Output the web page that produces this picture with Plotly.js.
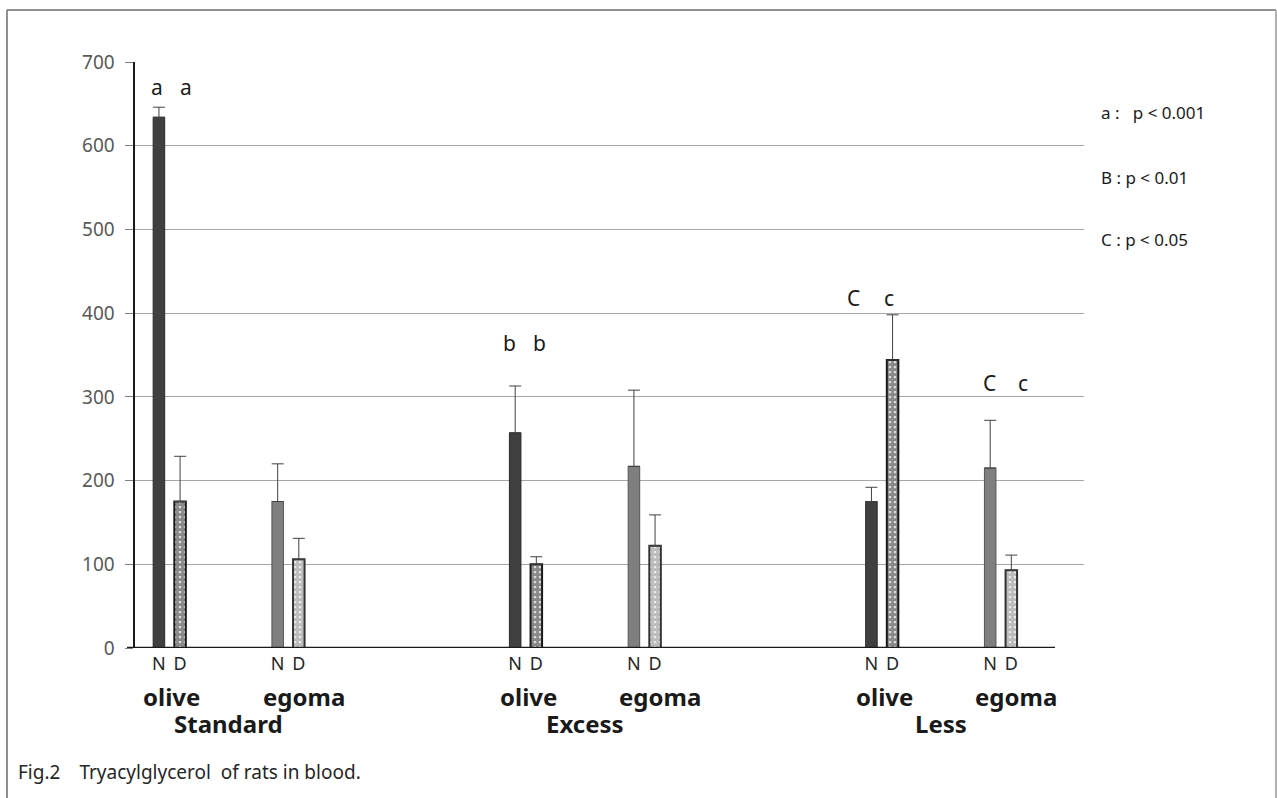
<!DOCTYPE html>
<html><head><meta charset="utf-8">
<script src="https://cdn.plot.ly/plotly-3.0.1.min.js"></script>
<style>html,body{margin:0;padding:0;background:#fff;}#chart{width:1277px;height:798px;}</style>
</head><body><div id="chart"></div>
<script>
// ---- data ----
const dietGroups = ["Standard", "Excess", "Less"];
const oils = ["olive", "egoma", "olive", "egoma", "olive", "egoma"];
const slots = [0, 1, 3, 4, 6, 7];             // category slots (gaps between diet groups)
const valuesN = [634, 175, 257, 217, 175, 215];
const errN    = [12, 45, 56, 91, 17, 57];
const valuesD = [175, 106, 100, 122, 344, 93];
const errD    = [54, 25, 9, 37, 54, 18];
const yTicks = [0, 100, 200, 300, 400, 500, 600, 700];
const sigNotes = ["a :   p < 0.001", "B : p < 0.01", "C : p < 0.05"];
const caption = "Fig.2\u3000Tryacylglycerol  of rats in blood.";

// ---- styling ----
const off = 0.089, bw = 0.097;
const nColors = oils.map(o => o === "olive" ? "#404040" : "#7f7f7f");
const nLine = oils.map(o => o === "olive" ? "#2a2a2a" : "#555555");
const dFg = oils.map(o => o === "olive" ? "#141414" : "#7a7a7a");
const dLine = oils.map(o => o === "olive" ? "#1a1a1a" : "#333333");

const traceN = {
  type: "bar", x: slots, y: valuesN, width: bw, offset: -off - bw/2,
  marker: {color: nColors, line: {color: nLine, width: 1}},
  error_y: {type: "data", array: errN, arrayminus: errN.map(() => 0), symmetric: false,
            color: "#404040", thickness: 1, width: 6},
  hoverinfo: "y", showlegend: false
};
const traceD = {
  type: "bar", x: slots, y: valuesD, width: bw, offset: off - bw/2,
  marker: {color: "#ffffff", line: {color: dLine, width: 2},
           pattern: {shape: ".", fgcolor: dFg, bgcolor: "#ffffff", size: 5, solidity: 0.8, fillmode: "overlay"}},
  error_y: {type: "data", array: errD, arrayminus: errD.map(() => 0), symmetric: false,
            color: "#404040", thickness: 1, width: 6},
  hoverinfo: "y", showlegend: false
};

const tickvals = [], ticktext = [];
slots.forEach(s => { tickvals.push(s - off, s + off); ticktext.push("N", "D"); });

const FONT = "Noto Sans, Open Sans, sans-serif";
const ann = [];
// significance letters
const letters = [
  {t: "a", x: -0.105, y: 670}, {t: "a", x: 0.139, y: 670},
  {t: "b", x: 2.859, y: 364}, {t: "b", x: 3.112, y: 364},
  {t: "C", x: 5.764, y: 418}, {t: "c", x: 6.059, y: 418},
  {t: "C", x: 6.901, y: 317}, {t: "c", x: 7.185, y: 317}
];
letters.forEach(l => ann.push({x: l.x, y: l.y, xref: "x", yref: "y", text: l.t, showarrow: false,
  font: {family: FONT, size: 21, color: "#1a1a1a"}, xanchor: "center", yanchor: "middle"}));
// oil labels
oils.forEach((o, i) => ann.push({x: slots[i] + (o === "egoma" ? 0.13 : 0.02), y: -0.083, xref: "x", yref: "paper",
  text: "<b>" + o + "</b>", showarrow: false, font: {family: FONT, size: 24, color: "#1a1a1a"},
  xanchor: "center", yanchor: "middle"}));
// diet group labels
dietGroups.forEach((g, i) => ann.push({x: (slots[2*i] + slots[2*i+1]) / 2, y: -0.128, xref: "x", yref: "paper",
  text: "<b>" + g + "</b>", showarrow: false, font: {family: FONT, size: 24, color: "#1a1a1a"},
  xanchor: "center", yanchor: "middle"}));
// significance legend
const noteY = [640, 562, 488];
sigNotes.forEach((s, i) => ann.push({x: 1.016, y: noteY[i], xref: "paper", yref: "y", text: s, showarrow: false,
  font: {family: FONT, size: 17, color: "#1a1a1a"}, xanchor: "left", yanchor: "middle"}));
// caption
ann.push({x: -0.125, y: -0.212, xref: "paper", yref: "paper", text: caption, showarrow: false,
  font: {family: FONT, size: 19, color: "#262626"}, xanchor: "left", yanchor: "middle"});

const shapes = [
  // frame
  {type: "line", xref: "paper", yref: "paper", x0: -0.1349, x1: -0.1349, y0: 1.0887, y1: -0.4, line: {color: "#6b6b6b", width: 1.5}},
  {type: "line", xref: "paper", yref: "paper", x0: -0.1349, x1: 1.2023, y0: 1.0887, y1: 1.0887, line: {color: "#6b6b6b", width: 1.5}},
  {type: "line", xref: "paper", yref: "paper", x0: 1.2023, x1: 1.2023, y0: 1.0887, y1: -0.4, line: {color: "#b0b0b0", width: 2}},
  // baseline
  {type: "line", xref: "paper", yref: "y", x0: -0.0084, x1: 0.9694, y0: -2.2, y1: -2.2, line: {color: "#c8c8c8", width: 3}},
  {type: "line", xref: "paper", yref: "y", x0: -0.0084, x1: 0.9694, y0: 0, y1: 0, line: {color: "#1a1a1a", width: 2.5}}
];

const layout = {
  width: 1277, height: 798,
  margin: {l: 135, r: 193, t: 62, b: 150},
  paper_bgcolor: "#ffffff", plot_bgcolor: "#ffffff",
  barmode: "overlay",
  font: {family: FONT},
  xaxis: {range: [-0.2905, 7.701], tickvals: tickvals, ticktext: ticktext, showgrid: false, zeroline: false,
          showline: false, ticks: "", ticklabelstandoff: 3,
          tickfont: {family: FONT, size: 18, color: "#262626"}, fixedrange: true},
  yaxis: {range: [0, 700], tickvals: yTicks, showgrid: true, gridcolor: "#a6a6a6", gridwidth: 1,
          zeroline: false, showline: true, linecolor: "#1a1a1a", linewidth: 2.5,
          ticks: "outside", ticklen: 8, tickcolor: "#808080", tickwidth: 1, ticklabelstandoff: 6,
          tickfont: {family: FONT, size: 19, color: "#595959"}, fixedrange: true},
  annotations: ann, shapes: shapes, showlegend: false
};
Plotly.newPlot("chart", [traceN, traceD], layout, {displayModeBar: false, staticPlot: true});
</script></body></html>
